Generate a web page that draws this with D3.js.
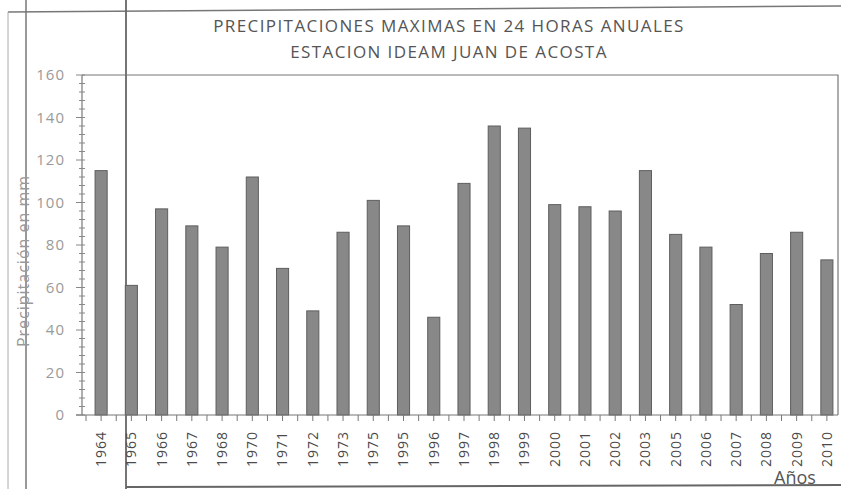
<!DOCTYPE html>
<html>
<head>
<meta charset="utf-8">
<script src="https://cdn.jsdelivr.net/npm/d3@7"></script>
<style>
  body { margin: 0; background: #fff; }
  svg { display: block; font-family: "Open Sans", sans-serif; }
</style>
</head>
<body>
<svg id="chart" width="841" height="489"></svg>
<script>
const years = ['1964', '1965', '1966', '1967', '1968', '1970', '1971', '1972', '1973', '1975',
  '1995', '1996', '1997', '1998', '1999', '2000', '2001', '2002', '2003', '2005',
  '2006', '2007', '2008', '2009', '2010'];
const precip = [115, 61, 97, 89, 79, 112, 69, 49, 86, 101,
  89, 46, 109, 136, 135, 99, 98, 96, 115, 85,
  79, 52, 76, 86, 73];
const yTicks = [0, 20, 40, 60, 80, 100, 120, 140, 160];
const titleLines = ['PRECIPITACIONES MAXIMAS EN 24 HORAS ANUALES', 'ESTACION IDEAM JUAN DE ACOSTA'];

const svg = d3.select('#chart');

// plot area
const plotLeft = 82, plotRight = 838, plotTop = 75, plotBottom = 415;

const x = d3.scaleBand()
  .domain(years)
  .range([86, 842])
  .paddingInner(0.6)
  .paddingOuter(0.3);

const y = d3.scaleLinear()
  .domain([0, 160])
  .range([plotBottom, plotTop]);

// scan frame lines (table border around the figure)
const frame = svg.append('g');
frame.append('line').attr('x1', 8).attr('y1', 12).attr('x2', 841).attr('y2', 6)
  .attr('stroke', '#777').attr('stroke-width', 1.5);
frame.append('line').attr('x1', 8).attr('y1', 12).attr('x2', 8).attr('y2', 489)
  .attr('stroke', '#aaa').attr('stroke-width', 1);
frame.append('line').attr('x1', 26).attr('y1', 0).attr('x2', 26).attr('y2', 489)
  .attr('stroke', '#777').attr('stroke-width', 1.5);
frame.append('line').attr('x1', 126).attr('y1', 0).attr('x2', 126).attr('y2', 489)
  .attr('stroke', '#666').attr('stroke-width', 1.8);
frame.append('line').attr('x1', 126).attr('y1', 487).attr('x2', 841).attr('y2', 485)
  .attr('stroke', '#666').attr('stroke-width', 2);

// title
svg.append('g')
  .selectAll('text')
  .data(titleLines)
  .join('text')
  .attr('x', 449)
  .attr('y', (d, i) => 32 + i * 26)
  .attr('text-anchor', 'middle')
  .attr('fill', '#555')
  .style('font-size', '17px')
  .style('letter-spacing', '1.4px')
  .text(d => d);

// plot border (top and right)
svg.append('path')
  .attr('d', `M${plotLeft},${plotTop}H${plotRight}V${plotBottom}`)
  .attr('fill', 'none')
  .attr('stroke', '#777')
  .attr('stroke-width', 1.2);

// bars
svg.append('g')
  .selectAll('rect')
  .data(years.map((yr, i) => ({ year: yr, value: precip[i] })))
  .join('rect')
  .attr('x', d => x(d.year))
  .attr('y', d => y(d.value))
  .attr('width', x.bandwidth())
  .attr('height', d => y(0) - y(d.value))
  .attr('fill', '#888')
  .attr('stroke', '#5e5e5e')
  .attr('stroke-width', 1);

// y axis
const yAxis = svg.append('g').attr('transform', `translate(${plotLeft},0)`);
yAxis.append('line')
  .attr('x1', 0).attr('x2', 0).attr('y1', plotTop).attr('y2', plotBottom)
  .attr('stroke', '#777').attr('stroke-width', 1.2);
yAxis.selectAll('.minor')
  .data(d3.range(0, 161, 4))
  .join('line')
  .attr('class', 'minor')
  .attr('x1', d => yTicks.includes(d) ? -6 : -3)
  .attr('x2', 3)
  .attr('y1', d => y(d)).attr('y2', d => y(d))
  .attr('stroke', '#888');
yAxis.selectAll('text')
  .data(yTicks)
  .join('text')
  .attr('x', -17)
  .attr('y', d => y(d))
  .attr('dy', '0.35em')
  .attr('text-anchor', 'end')
  .attr('fill', '#9a9a9a')
  .style('font-size', '15px')
  .style('letter-spacing', '1px')
  .text(d => d);

// x axis
const xAxis = svg.append('g');
xAxis.append('line')
  .attr('x1', plotLeft - 6).attr('x2', plotRight).attr('y1', plotBottom).attr('y2', plotBottom)
  .attr('stroke', '#777').attr('stroke-width', 1.2);
const half = x.step() / 2;
const tickPos = [];
years.forEach(yr => {
  const c = x(yr) + x.bandwidth() / 2;
  tickPos.push(c - half, c);
});
xAxis.selectAll('.tick')
  .data(tickPos.filter(p => p > plotLeft && p < plotRight))
  .join('line')
  .attr('class', 'tick')
  .attr('x1', d => d).attr('x2', d => d)
  .attr('y1', plotBottom).attr('y2', plotBottom + 6)
  .attr('stroke', '#777');
xAxis.selectAll('text')
  .data(years)
  .join('text')
  .attr('transform', d => `translate(${x(d) + x.bandwidth() / 2},${plotBottom + 16}) rotate(-90)`)
  .attr('dy', '0.35em')
  .attr('text-anchor', 'end')
  .attr('fill', '#4a4a4a')
  .style('font-size', '14px')
  .style('letter-spacing', '1px')
  .text(d => d);

// axis titles
svg.append('text')
  .attr('transform', 'translate(23,261) rotate(-90)')
  .attr('text-anchor', 'middle')
  .attr('dy', '0.35em')
  .attr('fill', '#999')
  .style('font-size', '16px')
  .style('letter-spacing', '1px')
  .text('Precipitación en mm');

svg.append('text')
  .attr('x', 795)
  .attr('y', 484)
  .attr('text-anchor', 'middle')
  .attr('fill', '#555')
  .style('font-size', '18px')
  .text('Años');
</script>
</body>
</html>
